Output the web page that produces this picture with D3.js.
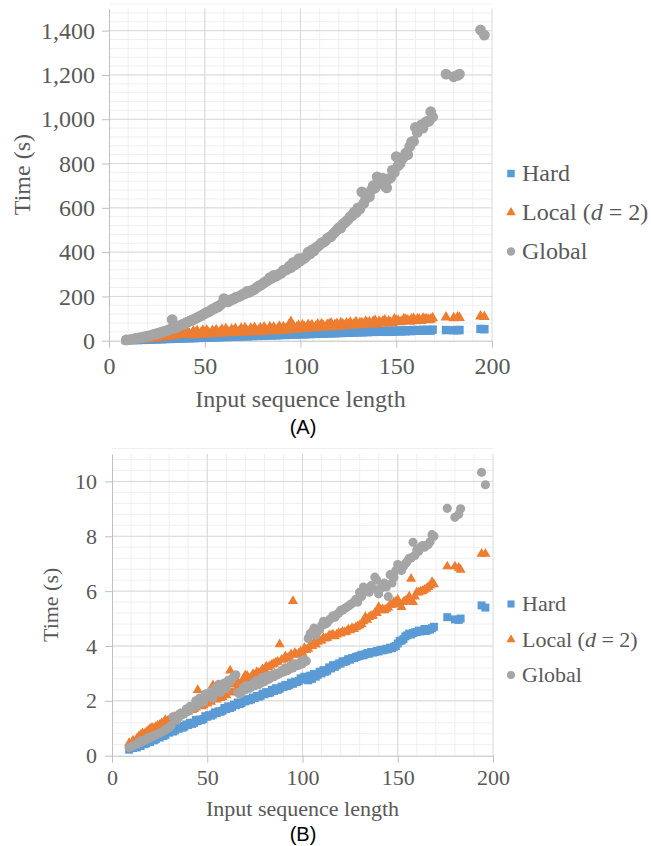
<!DOCTYPE html>
<html>
<head>
<meta charset="utf-8">
<script src="https://cdn.jsdelivr.net/npm/d3@7"></script>
<style>
  body { margin: 0; background: #fff; }
</style>
</head>
<body>
<svg width="651" height="846"></svg>
<script>
const SERIF = "'Liberation Serif', 'Times New Roman', serif";

// sequence lengths (shared by every series); second block fills the band between
const lengths = [9, 13, 15, 17, 18, 20, 22, 23, 25, 27,
  28, 30, 32, 33, 35, 37, 38, 40, 42, 43,
  45, 47, 48, 50, 52, 53, 55, 57, 58, 60,
  62, 63, 65, 67, 68, 70, 72, 73, 75, 77,
  78, 80, 82, 83, 85, 87, 88, 90, 92, 93,
  95, 97, 98, 100, 102, 103, 105, 107, 108, 110,
  112, 113, 115, 117, 118, 120, 122, 123, 125, 127,
  128, 130, 132, 133, 135, 137, 138, 140, 142, 143,
  145, 147, 148, 150, 152, 153, 155, 157, 158, 160,
  162, 163, 165, 167, 168, 176, 180, 182, 183, 194,
  196,
  11, 14, 16, 19, 21, 24, 26, 29, 31, 34,
  36, 39, 41, 44, 46, 49, 51, 54, 56, 59,
  61, 64, 66, 69, 71, 74, 76, 79, 81, 84,
  86, 89, 91, 94, 96, 99, 101, 104, 106, 109,
  111, 114, 116, 119, 121, 124, 126, 129, 131, 134,
  136, 139, 141, 144, 146, 149, 151, 154, 156, 159,
  161, 164, 166, 169];

// panel A (seconds)
const hardA = [2, 3, 3, 4, 4, 5, 5, 6, 6, 7,
  7, 8, 8, 9, 9, 10, 10, 11, 11, 12,
  12, 13, 13, 14, 14, 15, 15, 16, 16, 17,
  17, 18, 18, 19, 19, 20, 20, 21, 21, 22,
  22, 23, 23, 24, 24, 25, 25, 26, 26, 27,
  27, 28, 28, 29, 29, 30, 30, 31, 31, 32,
  32, 33, 33, 34, 34, 35, 35, 36, 36, 37,
  37, 38, 38, 39, 39, 40, 40, 41, 41, 42,
  40, 41, 41, 42, 42, 43, 43, 44, 44, 45,
  45, 45, 46, 46, 46, 48, 47, 48, 48, 53,
  52,
  3, 4, 5, 6, 7, 8, 9, 10, 11, 12,
  13, 14, 15, 16, 17, 18, 19, 20, 21, 22,
  20, 21, 22, 23, 24, 25, 26, 27, 28, 29,
  29, 30, 31, 32, 33, 33, 34, 35, 36, 36,
  36, 37, 38, 39, 39, 40, 41, 41, 42, 43,
  43, 44, 44, 45, 45, 46, 46, 47, 47, 48,
  48, 49, 49, 50];
const localA = [2, 3, 4, 5, 6, 7, 9, 10, 12, 14,
  15, 18, 20, 21, 24, 26, 28, 30, 32, 25,
  34, 26, 35, 28, 36, 30, 38, 31, 40, 33,
  41, 34, 42, 36, 44, 37, 45, 38, 46, 39,
  47, 40, 48, 42, 50, 43, 52, 44, 54, 47,
  85, 50, 60, 52, 62, 54, 63, 56, 64, 58,
  66, 60, 74, 62, 72, 64, 75, 66, 73, 68,
  76, 70, 80, 72, 78, 74, 86, 74, 80, 88,
  78, 82, 80, 92, 84, 86, 94, 86, 96, 88,
  95, 90, 97, 93, 96, 105, 102, 106, 103, 110,
  108,
  2, 3, 5, 8, 10, 14, 17, 22, 25, 30,
  32, 36, 38, 42, 45, 46, 47, 45, 48, 50,
  52, 50, 54, 55, 57, 55, 58, 57, 60, 62,
  60, 64, 62, 72, 66, 68, 70, 72, 70, 74,
  75, 72, 78, 76, 80, 78, 82, 84, 80, 86,
  84, 90, 86, 92, 88, 96, 90, 98, 92, 100,
  96, 100, 98, 102];
const globalA = [3, 8, 11, 14, 16, 20, 24, 27, 32, 37,
  40, 45, 52, 95, 60, 68, 72, 80, 88, 92,
  100, 108, 112, 122, 130, 136, 145, 152, 160, 190,
  175, 180, 188, 196, 200, 210, 222, 218, 228, 240,
  246, 255, 268, 272, 282, 290, 296, 305, 318, 322,
  330, 342, 348, 360, 372, 380, 392, 405, 420, 432,
  445, 450, 468, 482, 490, 510, 525, 532, 548, 565,
  580, 600, 672, 620, 660, 680, 700, 740, 715, 734,
  690, 735, 770, 831, 800, 820, 847, 876, 898, 963,
  960, 974, 984, 990, 1034, 1204, 1192, 1198, 1204, 1403,
  1380,
  5, 10, 13, 18, 22, 30, 34, 42, 48, 56,
  62, 74, 84, 95, 104, 118, 128, 142, 152, 168,
  178, 186, 195, 205, 212, 225, 232, 250, 262, 285,
  295, 302, 318, 335, 352, 370, 372, 400, 410, 425,
  442, 462, 470, 500, 508, 540, 560, 578, 595, 640,
  650, 690, 720, 700, 730, 760, 790, 830, 840, 900,
  940, 960, 990, 1010];

// panel B (seconds)
const hardB = [0.22, 0.3, 0.35, 0.42, 0.45, 0.5, 0.56, 0.6, 0.66, 0.72,
  0.76, 0.84, 0.88, 0.92, 0.98, 1.02, 1.06, 1.12, 1.16, 1.2,
  1.26, 1.3, 1.34, 1.42, 1.46, 1.5, 1.55, 1.6, 1.64, 1.7,
  1.74, 1.78, 1.84, 1.88, 1.92, 1.98, 2.02, 2.05, 2.1, 2.15,
  2.18, 2.24, 2.28, 2.3, 2.36, 2.4, 2.44, 2.5, 2.54, 2.58,
  2.62, 2.68, 2.72, 2.78, 2.82, 2.75, 2.8, 2.88, 2.95, 3.0,
  3.06, 3.1, 3.18, 3.24, 3.3, 3.36, 3.42, 3.45, 3.5, 3.56,
  3.6, 3.64, 3.66, 3.7, 3.72, 3.76, 3.78, 3.8, 3.84, 3.86,
  3.88, 3.92, 3.97, 4.09, 4.2, 4.25, 4.39, 4.42, 4.47, 4.51,
  4.53, 4.55, 4.55, 4.6, 4.65, 5.05, 4.97, 4.95, 5.0, 5.48,
  5.4,
  0.28, 0.4, 0.48, 0.6, 0.62, 0.74, 0.8, 0.88, 0.95, 1.02,
  1.08, 1.14, 1.2, 1.3, 1.32, 1.44, 1.48, 1.58, 1.62, 1.74,
  1.8, 1.86, 1.94, 2.0, 2.06, 2.12, 2.18, 2.26, 2.32, 2.4,
  2.46, 2.52, 2.58, 2.66, 2.7, 2.82, 2.88, 2.92, 2.98, 3.06,
  3.12, 3.22, 3.3, 3.36, 3.44, 3.52, 3.56, 3.62, 3.68, 3.74,
  3.78, 3.82, 3.86, 3.9, 3.94, 4.0, 4.18, 4.35, 4.45, 4.5,
  4.56, 4.62, 4.6, 4.7];
const localB = [0.46, 0.62, 0.75, 0.8, 0.85, 0.98, 1.0, 1.05, 1.12, 1.2,
  1.3, 1.3, 1.38, 1.42, 1.46, 1.5, 1.55, 1.6, 1.66, 1.7,
  2.39, 1.8, 1.84, 1.9, 1.96, 2.57, 2.05, 2.1, 2.14, 2.2,
  3.1, 2.3, 2.4, 2.55, 2.65, 2.93, 2.8, 2.85, 2.92, 3.0,
  3.05, 3.15, 3.22, 3.28, 3.35, 3.42, 4.06, 3.5, 3.55, 3.6,
  5.64, 3.68, 3.72, 3.75, 3.85, 3.9, 4.0, 4.05, 4.15, 4.2,
  4.27, 4.3, 4.39, 4.35, 4.42, 4.45, 4.5, 4.52, 4.57, 4.62,
  4.68, 4.75, 4.9, 5.05, 5.05, 5.1, 5.2, 5.42, 5.35, 5.3,
  5.4, 5.5, 5.6, 5.69, 5.42, 5.6, 5.69, 6.45, 5.6, 5.96,
  5.98, 6.0, 6.08, 6.2, 6.33, 6.9, 6.9, 6.85, 6.78, 7.36,
  7.36,
  0.55, 0.7, 0.82, 0.92, 1.02, 1.1, 1.18, 1.26, 1.35, 1.45,
  1.5, 1.6, 1.68, 1.75, 1.85, 2.0, 2.05, 2.12, 2.2, 2.3,
  2.4, 2.6, 2.7, 2.8, 2.9, 2.98, 3.05, 3.15, 3.25, 3.32,
  3.4, 3.5, 3.62, 3.7, 3.75, 3.8, 3.92, 4.02, 4.12, 4.2,
  4.3, 4.38, 4.42, 4.47, 4.52, 4.6, 4.65, 4.72, 4.8, 4.95,
  5.1, 5.2, 5.3, 5.35, 5.5, 5.6, 5.52, 5.65, 5.8, 5.8,
  5.95, 6.05, 6.15, 6.25];
const globalB = [0.3, 0.42, 0.48, 0.55, 0.6, 0.65, 0.72, 0.76, 0.82, 0.9,
  0.95, 1.02, 1.42, 1.38, 1.4, 1.5, 1.55, 1.62, 1.72, 1.78,
  1.85, 2.05, 1.95, 2.15, 2.2, 2.1, 2.35, 2.3, 2.5, 2.45,
  2.7, 2.8, 2.95, 2.25, 2.35, 2.4, 2.45, 2.5, 2.55, 2.6,
  2.65, 2.7, 2.78, 2.82, 2.88, 2.95, 3.0, 3.05, 3.1, 3.15,
  3.2, 3.28, 3.3, 3.35, 3.45, 4.27, 4.5, 4.4, 4.55, 4.75,
  4.8, 4.85, 5.0, 5.05, 5.15, 5.3, 5.36, 5.4, 5.5, 5.6,
  5.7, 5.96, 6.15, 6.0, 5.96, 6.1, 6.51, 5.9, 6.2, 6.29,
  5.8, 6.3, 6.5, 6.97, 6.75, 6.9, 7.09, 7.21, 7.78, 7.5,
  7.6, 7.66, 7.66, 7.8, 8.06, 9.02, 8.69, 8.8, 9.0, 10.33,
  9.88,
  0.36, 0.5, 0.56, 0.66, 0.7, 0.8, 0.86, 0.98, 1.1, 1.3,
  1.55, 1.7, 1.8, 2.0, 2.1, 2.25, 2.3, 2.45, 2.6, 2.65,
  2.75, 2.9, 2.3, 2.5, 2.55, 2.65, 2.75, 2.85, 2.9, 2.95,
  3.0, 3.1, 3.2, 3.3, 3.35, 3.42, 3.5, 4.45, 4.65, 4.6,
  4.9, 4.95, 5.1, 5.2, 5.3, 5.45, 5.55, 5.6, 5.8, 6.05,
  6.2, 6.4, 6.1, 6.15, 6.6, 6.75, 6.8, 7.0, 7.2, 7.3,
  7.45, 7.6, 7.7, 8.0];

const xTicks = [0, 50, 100, 150, 200];
const yTicksA = [0, 200, 400, 600, 800, 1000, 1200, 1400];
const yTicksB = [0, 2, 4, 6, 8, 10];

const colors = {Hard: "#5b9bd5", Local: "#ed7d31", Global: "#a5a5a5"};
const symbols = {Hard: d3.symbolSquare, Local: d3.symbolTriangle, Global: d3.symbolCircle};

const svg = d3.select("svg");

function drawPanel(o) {
  const g = svg.append("g");
  const x = d3.scaleLinear().domain([0, 200]).range([o.left, o.right]);
  const y = d3.scaleLinear().domain([0, o.yMax]).range([o.bottom, o.top]);

  // minor grid
  g.selectAll(".mx").data(d3.range(10, 200, 10)).enter().append("line")
    .attr("x1", d => x(d)).attr("x2", d => x(d))
    .attr("y1", o.top).attr("y2", o.bottom)
    .attr("stroke", "#efefef");
  g.selectAll(".my").data(d3.range(1, Math.round(o.yMax / o.yMinor) + 1).map(i => i * o.yMinor)).enter().append("line")
    .attr("x1", o.left).attr("x2", o.right)
    .attr("y1", d => y(d)).attr("y2", d => y(d))
    .attr("stroke", "#efefef");

  // major grid
  g.selectAll(".gx").data(xTicks.slice(1)).enter().append("line")
    .attr("x1", d => x(d)).attr("x2", d => x(d))
    .attr("y1", o.top).attr("y2", o.bottom)
    .attr("stroke", "#d9d9d9");
  g.selectAll(".gy").data(o.yTicks.slice(1)).enter().append("line")
    .attr("x1", o.left).attr("x2", o.right)
    .attr("y1", d => y(d)).attr("y2", d => y(d))
    .attr("stroke", "#d9d9d9");

  // axes
  const ax = g.append("g")
    .attr("transform", `translate(0,${o.bottom})`)
    .call(d3.axisBottom(x).tickValues(xTicks).tickSize(7).tickSizeOuter(0).tickPadding(o.xPad));
  const ay = g.append("g")
    .attr("transform", `translate(${o.left},0)`)
    .call(d3.axisLeft(y).tickValues(o.yTicks).tickSize(7).tickSizeOuter(0).tickPadding(o.yPad)
      .tickFormat(d3.format(",")));
  [ax, ay].forEach(a => {
    a.attr("font-family", SERIF).attr("font-size", o.fs).attr("color", "#bfbfbf");
    a.selectAll("text").attr("fill", "#595959").style("font-family", SERIF);
  });

  // points
  const series = [["Hard", o.hard], ["Local", o.local], ["Global", o.global]];
  series.forEach(([name, vals]) => {
    const sym = d3.symbol().type(symbols[name]).size(o.sizes[name]);
    g.append("g").selectAll("path").data(lengths.map((L, i) => [L, vals[i]]))
      .enter().append("path")
      .attr("d", sym)
      .attr("fill", colors[name])
      .attr("transform", d => `translate(${x(d[0])},${y(d[1])})`);
  });

  // axis titles
  g.append("text")
    .attr("x", (o.left + o.right) / 2).attr("y", o.xTitleY)
    .attr("text-anchor", "middle").attr("font-size", o.tfs)
    .style("font-family", SERIF).attr("fill", "#595959")
    .text("Input sequence length");
  g.append("text")
    .attr("transform", `translate(${o.yTitleX},${(o.top + o.bottom) / 2}) rotate(-90)`)
    .attr("text-anchor", "middle").attr("font-size", o.tfs)
    .style("font-family", SERIF).attr("fill", "#595959")
    .text("Time (s)");

  // legend
  series.forEach(([name], i) => {
    const cy = o.legendY + i * o.legendGap;
    g.append("path")
      .attr("d", d3.symbol().type(symbols[name]).size(o.legendSize[name]))
      .attr("fill", colors[name])
      .attr("transform", `translate(511,${cy})`);
    const t = g.append("text")
      .attr("x", 522).attr("y", cy + o.fs * 0.33)
      .attr("font-size", o.fs)
      .style("font-family", SERIF).attr("fill", "#595959");
    if (name === "Local") {
      t.append("tspan").text("Local (");
      t.append("tspan").attr("font-style", "italic").text("d");
      t.append("tspan").text(" = 2)");
    } else {
      t.text(name);
    }
  });

  // panel label
  g.append("text")
    .attr("x", 303).attr("y", o.labelY)
    .attr("text-anchor", "middle")
    .style("font-family", "'Liberation Sans', Arial, sans-serif")
    .attr("fill", "#000")
    .attr("font-size", 20)
    .text(o.label);
}

drawPanel({
  left: 109, right: 492, top: 8.5, bottom: 340.7,
  yMax: 1500, yTicks: yTicksA, yMinor: 40,
  hard: hardA, local: localA, global: globalA,
  fs: 24, tfs: 24, xPad: 9, yPad: 7,
  sizes: {Hard: 72, Local: 52, Global: 92},
  legendSize: {Hard: 56, Local: 40, Global: 56},
  legendY: 173.5, legendGap: 39,
  xTitleY: 407, yTitleX: 30,
  label: "(A)", labelY: 434
});

drawPanel({
  left: 112, right: 493, top: 454, bottom: 755.7,
  yMax: 11, yTicks: yTicksB, yMinor: 0.4,
  hard: hardB, local: localB, global: globalB,
  fs: 22, tfs: 22, xPad: 7, yPad: 8,
  sizes: {Hard: 64, Local: 44, Global: 66},
  legendSize: {Hard: 50, Local: 36, Global: 50},
  legendY: 604, legendGap: 35.5,
  xTitleY: 816, yTitleX: 58,
  label: "(B)", labelY: 841
});
</script>
</body>
</html>
